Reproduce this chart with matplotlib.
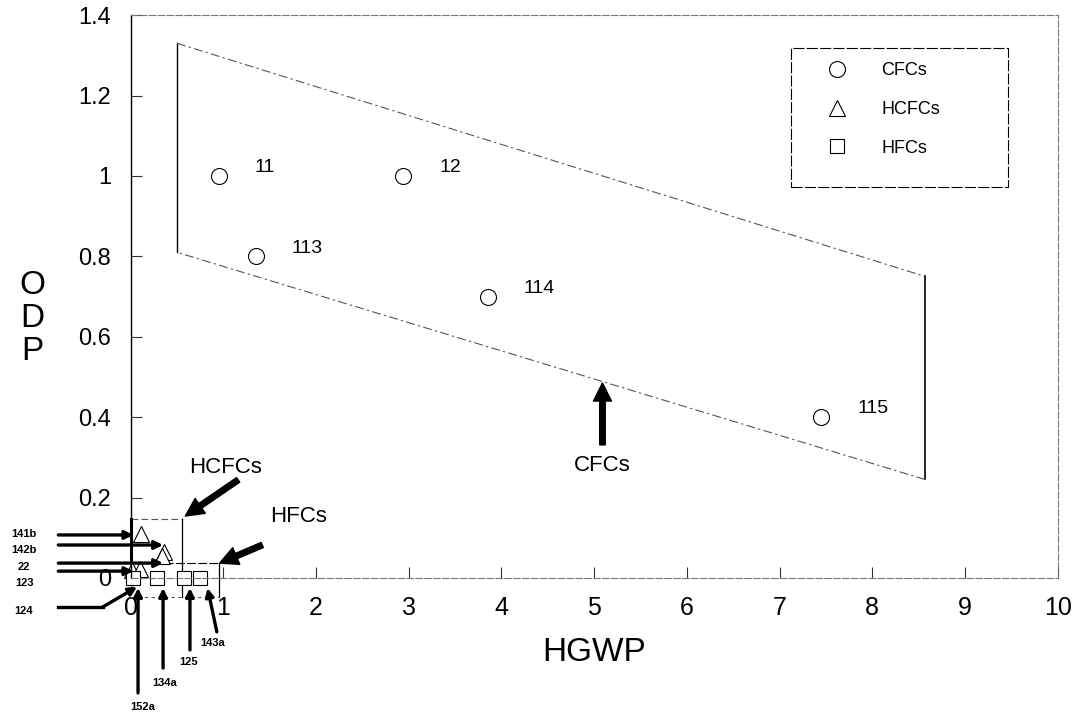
import matplotlib
matplotlib.use('Agg')
import matplotlib.pyplot as plt
from matplotlib.patches import Rectangle

plt.rcParams['font.family'] = ['Liberation Sans', 'DejaVu Sans']

# CFCs
cfc_names = ['11', '12', '113', '114', '115']
cfc_hgwp = [0.95, 2.94, 1.35, 3.85, 7.45]
cfc_odp = [1.0, 1.0, 0.80, 0.70, 0.40]

# HCFCs
hcfc_names = ['141b', '142b', '22', '123', '124']
hcfc_hgwp = [0.11, 0.36, 0.34, 0.02, 0.10]
hcfc_odp = [0.11, 0.065, 0.055, 0.02, 0.022]

# HFCs
hfc_names = ['152a', '134a', '125', '143a']
hfc_hgwp = [0.03, 0.28, 0.58, 0.75]
hfc_odp = [0.0, 0.0, 0.0, 0.0]

# CFC envelope corners
env_x = [0.50, 8.57, 8.57, 0.50]
env_y = [1.33, 0.75, 0.245, 0.81]

xticks = [0, 1, 2, 3, 4, 5, 6, 7, 8, 9, 10]
yticks = [0, 0.2, 0.4, 0.6, 0.8, 1.0, 1.2, 1.4]
ytick_labels = ['0', '0.2', '0.4', '0.6', '0.8', '1', '1.2', '1.4']

fig = plt.figure(figsize=(10.76, 7.17), dpi=100)
ax = fig.add_axes([0.1214, 0.1939, 0.8615, 0.785])
ax.set_xlim(0, 10)
ax.set_ylim(0, 1.4)

for s in ['top', 'right', 'bottom']:
    ax.spines[s].set_color('#777777')
    ax.spines[s].set_linewidth(0.8)
    ax.spines[s].set_linestyle((0, (6, 2)))
ax.spines['left'].set_color('black')
ax.spines['left'].set_linewidth(1.0)

ax.set_xticks(xticks)
ax.set_yticks(yticks)
ax.set_yticklabels(ytick_labels)
ax.tick_params(axis='both', direction='in', length=8, width=0.8, color='#333333')
ax.tick_params(axis='y', labelsize=17, pad=14)
ax.tick_params(axis='x', labelsize=18, pad=13)
for lab in ax.get_xticklabels():
    lab.set_family(['Liberation Sans Narrow', 'Liberation Sans'])

ax.set_xlabel('HGWP', fontsize=24, labelpad=12)
fig.text(0.030, 0.556, 'O\nD\nP', fontsize=24, ha='center', va='center',
         linespacing=1.08)

# CFC envelope
ax.plot([env_x[3], env_x[0]], [env_y[3], env_y[0]], color='black', lw=1.0)
ax.plot([env_x[0], env_x[1]], [env_y[0], env_y[1]], color='#555555', lw=0.8,
        linestyle=(0, (8, 3, 2, 3)))
ax.plot([env_x[1], env_x[2]], [env_y[1], env_y[2]], color='black', lw=1.2)
ax.plot([env_x[2], env_x[3]], [env_y[2], env_y[3]], color='#555555', lw=0.8,
        linestyle=(0, (8, 3, 2, 3)))

# HCFC / HFC envelopes near the origin
ax.plot([0, 0.55], [0.147, 0.147], color='#555555', lw=0.8, ls=(0, (6, 3)),
        clip_on=False)
ax.plot([0.55, 0.55], [0.147, -0.047], color='black', lw=0.9, clip_on=False)
ax.plot([0, 0], [0.147, 0.04], color='black', lw=2.2, clip_on=False)
ax.plot([0, 0.95], [0.037, 0.037], color='black', lw=0.8, ls=(0, (8, 2)),
        clip_on=False)
ax.plot([0.95, 0.95], [0.037, -0.047], color='black', lw=0.9, clip_on=False)
ax.plot([0, 0.95], [-0.047, -0.047], color='#555555', lw=0.8, ls=(0, (3, 3)),
        clip_on=False)
ax.plot([0, 0], [0, -0.047], color='#555555', lw=0.8, ls=(0, (3, 3)),
        clip_on=False)

ax.plot(cfc_hgwp, cfc_odp, 'o', ms=11.5, mfc='white', mec='black', mew=0.8,
        label='CFCs', clip_on=False)
ax.plot(hcfc_hgwp, hcfc_odp, '^', ms=11, mfc='white', mec='black', mew=0.8,
        label='HCFCs', clip_on=False)
ax.plot(hfc_hgwp, hfc_odp, 's', ms=10, mfc='white', mec='black', mew=0.8,
        label='HFCs', clip_on=False)

for n, x, y in zip(cfc_names, cfc_hgwp, cfc_odp):
    ax.annotate(n, (x, y), xytext=(26, 6), textcoords='offset points',
                fontsize=14, ha='left', va='center')

# legend
ax.add_patch(Rectangle((0.7125, 0.694), 0.234, 0.247, transform=ax.transAxes,
                       fill=False, edgecolor='black', lw=0.8,
                       linestyle=(0, (10, 2))))
ax.legend(loc='upper left', bbox_to_anchor=(0.7475, 0.916), frameon=False,
          fontsize=13, borderpad=0, handlelength=1.5, handletextpad=1.7,
          labelspacing=1.2, borderaxespad=0)

# group arrows
big = dict(width=4, headwidth=13, headlength=13, color='black', shrink=0)
ax.annotate('', xy=(0.59, 0.154), xytext=(1.16, 0.244), arrowprops=big,
            annotation_clip=False)
ax.text(1.02, 0.276, 'HCFCs', fontsize=16, ha='center', va='center')
ax.annotate('', xy=(0.96, 0.037), xytext=(1.42, 0.082), arrowprops=big,
            annotation_clip=False)
ax.text(1.81, 0.152, 'HFCs', fontsize=16, ha='center', va='center')
ax.annotate('', xy=(5.09, 0.485), xytext=(5.09, 0.331), arrowprops=big)
ax.text(5.09, 0.281, 'CFCs', fontsize=16, ha='center', va='center')

# small compound arrows
small = dict(arrowstyle='-|>', lw=2.4, color='black', mutation_scale=12,
             shrinkA=0, shrinkB=0)
left_tail_x = -0.78
left_label_x = -1.15
left_y = [0.107, 0.082, 0.037, 0.017]
left_tip_x = [0.03, 0.35, 0.35, 0.03]
left_label_y = [0.109, 0.069, 0.027, -0.012]
for i in range(4):
    ax.annotate('', xy=(left_tip_x[i], left_y[i]), xytext=(left_tail_x, left_y[i]),
                arrowprops=small, annotation_clip=False)
    ax.text(left_label_x, left_label_y[i], hcfc_names[i], fontsize=8,
            fontweight='bold', ha='center', va='center', clip_on=False)
ax.plot([left_tail_x, -0.30], [-0.072, -0.072], color='black', lw=2.4,
        clip_on=False)
ax.annotate('', xy=(0.07, -0.022), xytext=(-0.30, -0.072), arrowprops=small,
            annotation_clip=False)
ax.text(left_label_x, -0.082, hcfc_names[4], fontsize=8, fontweight='bold',
        ha='center', va='center', clip_on=False)

bot_x = [0.08, 0.35, 0.64, 0.83]
bot_tail_x = [0.08, 0.35, 0.64, 0.93]
bot_tail_y = [-0.286, -0.224, -0.179, -0.134]
bot_label_x = [0.13, 0.37, 0.62, 0.88]
bot_label_y = [-0.322, -0.26, -0.21, -0.162]
for i in range(4):
    ax.annotate('', xy=(bot_x[i], -0.025), xytext=(bot_tail_x[i], bot_tail_y[i]),
                arrowprops=small, annotation_clip=False)
    ax.text(bot_label_x[i], bot_label_y[i], hfc_names[i], fontsize=8,
            fontweight='bold', ha='center', va='center', clip_on=False)

fig.savefig('out.png', dpi=100)
